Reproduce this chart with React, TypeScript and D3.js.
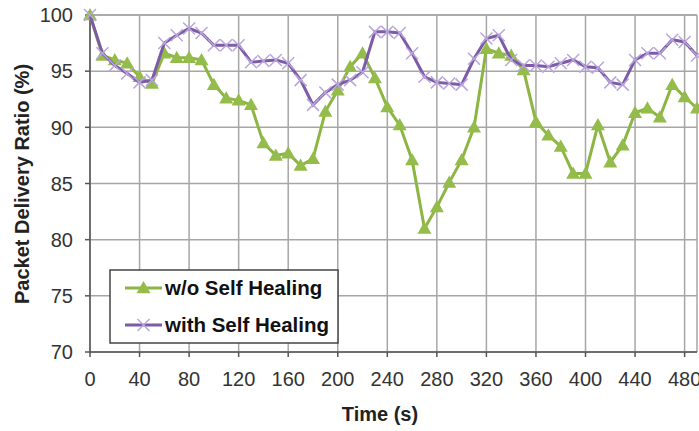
import React from "react";
import * as d3 from "d3";

const times = d3.range(0, 500, 10);
const withoutHealing = [
  100, 96.4, 96.0, 95.7, 94.5, 93.9, 96.6, 96.2, 96.2, 96.0,
  93.8, 92.6, 92.4, 92.0, 88.6, 87.5, 87.7, 86.6, 87.2, 91.4,
  93.3, 95.4, 96.6, 94.4, 91.8, 90.2, 87.1, 81.0, 82.9, 85.1,
  87.1, 90.0, 97.0, 96.6, 96.4, 95.1, 90.5, 89.3, 88.3, 85.9,
  85.9, 90.2, 86.9, 88.4, 91.3, 91.7, 90.9, 93.8, 92.7, 91.7,
];
const withHealing = [
  100, 96.6, 95.5, 94.8, 94.0, 94.2, 97.5, 98.2, 98.8, 98.4,
  97.3, 97.3, 97.3, 95.8, 95.9, 96.0, 95.7, 94.2, 92.0, 93.1,
  93.8, 94.2, 94.9, 98.5, 98.5, 98.4, 96.6, 94.5, 94.0, 93.9,
  93.8, 96.1, 97.9, 98.2, 96.0, 95.5, 95.5, 95.4, 95.7, 96.0,
  95.4, 95.3, 94.0, 93.8, 96.0, 96.6, 96.6, 97.8, 97.6, 96.4,
];
const xTicks = d3.range(0, 481, 40);
const yTicks = d3.range(70, 101, 5);
const seriesNames = ["w/o Self Healing", "with Self Healing"];

const W = 699, H = 431;
const x = d3.scaleLinear().domain([0, 490]).range([90, 697]);
const y = d3.scaleLinear().domain([70, 100]).range([352, 15]);

const GREEN = "#8cb543";
const GREEN_M = "#93bc4a";
const PURPLE = "#7d5ba6";
const PURPLE_M = "#b9a6dc";
const FONT = "'Liberation Sans', Arial, sans-serif";

function Tri({ cx, cy }: { cx: number; cy: number }) {
  const s = 7;
  return <path d={`M${cx},${cy - s}L${cx + s},${cy + s * 0.75}L${cx - s},${cy + s * 0.75}Z`} fill={GREEN_M} />;
}
function Cross({ cx, cy }: { cx: number; cy: number }) {
  const s = 6;
  return (
    <path d={`M${cx - s},${cy - s}L${cx + s},${cy + s}M${cx - s},${cy + s}L${cx + s},${cy - s}`} stroke={PURPLE_M} strokeWidth={1.5} fill="none" />
  );
}

export default function App() {
  const line = d3.line<number>().x((_, i) => x(times[i])).y((d) => y(d));
  const [x0, x1] = x.range();
  const [yb, yt] = y.range();
  return (
    <svg width={W} height={H} style={{ position: "absolute", left: 0, top: 0, background: "#fff" }}>
      {xTicks.map((t) => (
        <line key={"gx" + t} x1={x(t)} x2={x(t)} y1={yt} y2={yb} stroke="#a6a6a6" strokeWidth={1.5} />
      ))}
      {yTicks.map((t) => (
        <line key={"gy" + t} x1={x0} x2={x1} y1={y(t)} y2={y(t)} stroke="#a6a6a6" strokeWidth={1.5} />
      ))}
      <line x1={x0} x2={x1} y1={yt} y2={yt} stroke="#a6a6a6" strokeWidth={1.5} />
      <line x1={x1} x2={x1} y1={yt} y2={yb} stroke="#a6a6a6" strokeWidth={1.5} />
      <line x1={x0} x2={x1} y1={yb} y2={yb} stroke="#555" strokeWidth={1.5} />
      <line x1={x0} x2={x0} y1={yt} y2={yb} stroke="#555" strokeWidth={1.5} />
      {yTicks.map((t) => (
        <g key={"ty" + t}>
          <line x1={x0 - 5} x2={x0} y1={y(t)} y2={y(t)} stroke="#555" strokeWidth={1.5} />
          <text x={x0 - 17} y={y(t)} dy="0.36em" textAnchor="end" fontFamily={FONT} fontSize={20} fill="#333">{t}</text>
        </g>
      ))}
      {xTicks.map((t) => (
        <g key={"tx" + t}>
          <line x1={x(t)} x2={x(t)} y1={yb} y2={yb + 5} stroke="#555" strokeWidth={1.5} />
          <text x={x(t)} y={yb + 34} textAnchor="middle" fontFamily={FONT} fontSize={20} fill="#333">{t}</text>
        </g>
      ))}
      <text x={380} y={421} textAnchor="middle" fontFamily={FONT} fontSize={20} fontWeight="bold" fill="#222">Time (s)</text>
      <text transform={`translate(29,184) rotate(-90)`} textAnchor="middle" fontFamily={FONT} fontSize={20} fontWeight="bold" fill="#222">Packet Delivery Ratio (%)</text>

      <path d={line(withoutHealing) || ""} fill="none" stroke={GREEN} strokeWidth={3} />
      {withoutHealing.map((v, i) => <Tri key={"g" + i} cx={x(times[i])} cy={y(v)} />)}
      <path d={line(withHealing) || ""} fill="none" stroke={PURPLE} strokeWidth={3} />
      {withHealing.map((v, i) => <Cross key={"p" + i} cx={x(times[i])} cy={y(v)} />)}

      <rect x={110} y={270} width={228} height={73} fill="#fff" stroke="#444" strokeWidth={1.5} />
      <line x1={125} x2={162} y1={288} y2={288} stroke={GREEN} strokeWidth={3} />
      <Tri cx={143.5} cy={288} />
      <text x={165} y={288} dy="0.36em" fontFamily={FONT} fontSize={20.5} fontWeight="bold" fill="#111">{seriesNames[0]}</text>
      <line x1={125} x2={162} y1={325} y2={325} stroke={PURPLE} strokeWidth={3} />
      <Cross cx={143.5} cy={325} />
      <text x={165} y={325} dy="0.36em" fontFamily={FONT} fontSize={20.5} fontWeight="bold" fill="#111">{seriesNames[1]}</text>
    </svg>
  );
}
